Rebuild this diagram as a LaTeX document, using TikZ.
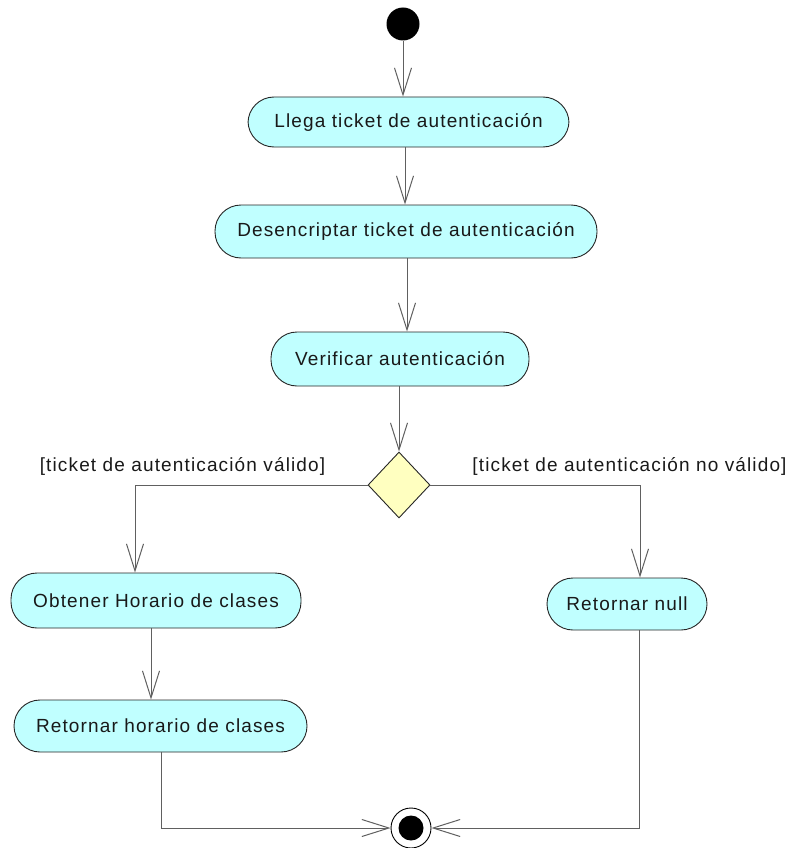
\documentclass[tikz,border=0pt]{standalone}
\usepackage{fontspec}
\setmainfont{Liberation Sans}
\newfontfamily\diagfont[LetterSpace=6]{Liberation Sans}
\usetikzlibrary{arrows.meta,shapes.geometric}
\definecolor{actfill}{HTML}{C0FFFF}
\definecolor{decfill}{HTML}{FFFFC0}
\definecolor{linegray}{HTML}{606060}
\begin{document}
\begin{tikzpicture}[x=1pt,y=-1pt,
  act/.style={draw=black!85, fill=actfill, rounded corners=26pt, inner sep=0pt,
    line width=0.9pt, font=\diagfont\fontsize{19}{22}\selectfont, text=black!90},
  dec/.style={diamond, draw=black!85, fill=decfill, inner sep=0pt, line width=0.9pt,
    minimum width=62pt, minimum height=66pt, aspect=0.94},
  flow/.style={draw=linegray, line width=1pt, -{Straight Barb[length=27pt,width=17pt,line width=1pt]}},
  guard/.style={font=\diagfont\fontsize{19}{22}\selectfont, inner sep=0pt, text=black!90}]
\useasboundingbox (0,0) rectangle (792,848);
\fill[white] (0,0) rectangle (792,848);
% nodes
\node[circle, fill=black, inner sep=0pt, minimum size=33pt] (start) at (403,24) {};
\node[act, minimum width=321pt, minimum height=50pt] (b1) at (408.5,122) {Llega ticket de autenticación};
\node[act, minimum width=382pt, minimum height=53pt] (b2) at (406,231.5) {Desencriptar ticket de autenticación};
\node[act, minimum width=258pt, minimum height=54pt] (b3) at (400,359) {Verificar autenticación};
\node[dec] (d) at (399,485) {};
\node[act, minimum width=290pt, minimum height=55pt] (b4) at (156,600.5) {Obtener Horario de clases};
\node[act, minimum width=293pt, minimum height=52pt] (b5) at (160.5,726) {Retornar horario de clases};
\node[act, minimum width=160pt, minimum height=52pt] (b6) at (627,604) {Retornar null};
\node[circle, draw=black, fill=white, line width=0.9pt, inner sep=0pt, minimum size=40pt] (end) at (411,828) {};
\fill[black] (end.center) circle (12.5pt);
% guards
\node[guard] (g1) at (182.5,466) {[ticket de autenticación válido]};
\node[guard] (g2) at (629.5,466) {[ticket de autenticación no válido]};
% bend coordinates
\coordinate (c2) at (405,0);
\coordinate (c3) at (407,0);
\coordinate (lx) at (135,0);
\coordinate (rx) at (640,0);
\coordinate (hx) at (151,0);
\coordinate (ox) at (161,0);
\coordinate (nx) at (639,0);
% connectors
\draw[flow] (start.south) -- (start.south |- b1.north);
\draw[flow] (b1.south -| c2) -- (b2.north -| c2);
\draw[flow] (b2.south -| c3) -- (b3.north -| c3);
\draw[flow] (b3.south -| d) -- (d.north);
\draw[flow] (d.west) -- (d.west -| lx) -- (b4.north -| lx);
\draw[flow] (d.east) -- (d.east -| rx) -- (b6.north -| rx);
\draw[flow] (b4.south -| hx) -- (b5.north -| hx);
\draw[flow] (b5.south -| ox) -- (end.west -| ox) -- (end.west);
\draw[flow] (b6.south -| nx) -- (end.east -| nx) -- (end.east);
\end{tikzpicture}
\end{document}
